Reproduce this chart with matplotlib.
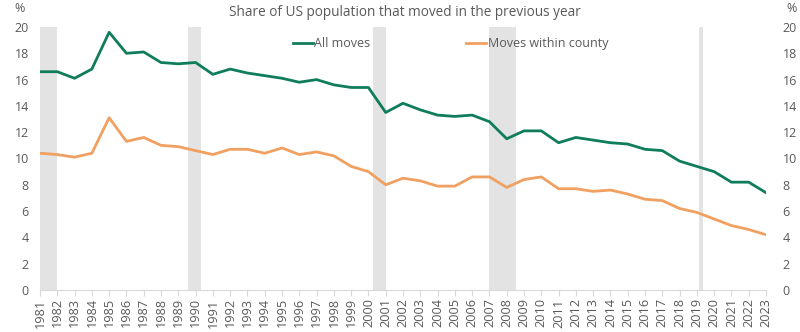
import matplotlib
matplotlib.use("Agg")
import matplotlib.pyplot as plt
from matplotlib.lines import Line2D

plt.rcParams['font.family'] = ['Open Sans', 'DejaVu Sans']

years = list(range(1981, 2024))
all_moves = [16.6, 16.6, 16.1, 16.8, 19.6, 18.0, 18.1, 17.3, 17.2, 17.3,
             16.4, 16.8, 16.5, 16.3, 16.1, 15.8, 16.0, 15.6, 15.4, 15.4,
             13.5, 14.2, 13.7, 13.3, 13.2, 13.3, 12.8, 11.5, 12.1, 12.1,
             11.2, 11.6, 11.4, 11.2, 11.1, 10.7, 10.6, 9.8, 9.4, 9.0,
             8.2, 8.2, 7.4]
within_county = [10.4, 10.3, 10.1, 10.4, 13.1, 11.3, 11.6, 11.0, 10.9, 10.6,
                 10.3, 10.7, 10.7, 10.4, 10.8, 10.3, 10.5, 10.2, 9.4, 9.0,
                 8.0, 8.5, 8.3, 7.9, 7.9, 8.6, 8.6, 7.8, 8.4, 8.6,
                 7.7, 7.7, 7.5, 7.6, 7.3, 6.9, 6.8, 6.2, 5.9, 5.4,
                 4.9, 4.6, 4.2]
recessions = [(1981.0, 1982.0), (1989.58, 1990.33), (2000.25, 2001.0),
              (2007.0, 2008.55), (2019.13, 2019.38)]
title = "Share of US population that moved in the previous year"
series_names = ["All moves", "Moves within county"]

green = "#0f7d5c"
orange = "#f0a060"
grey_text = "#595959"

fig = plt.figure(figsize=(8, 3.32), dpi=100)
ax = fig.add_axes([0.05, 0.1265, 0.9075, 0.7922])

for a, b in recessions:
    ax.axvspan(a, b, color="#e3e3e3", lw=0, zorder=0)

ax.plot(years, all_moves, color=green, lw=2, zorder=3)
ax.plot(years, within_county, color=orange, lw=2, zorder=3)

ax.set_xlim(1981, 2023)
ax.set_ylim(0, 20)
ax.set_yticks(range(0, 21, 2))
ax.set_xticks(years)
ax.set_xticklabels([str(y) for y in years], rotation=90, fontsize=9.1, color=grey_text)
ax.tick_params(axis='y', length=0, labelsize=9, labelcolor=grey_text, pad=8)
ax.tick_params(axis='x', length=4, color="#d9d9d9", pad=2)
for s in ['top', 'right', 'left']:
    ax.spines[s].set_visible(False)
ax.spines['bottom'].set_color("#d9d9d9")

ax2 = ax.twinx()
ax2.set_ylim(0, 20)
ax2.set_yticks(range(0, 21, 2))
ax2.tick_params(axis='y', length=0, labelsize=9, labelcolor=grey_text, pad=12)
for s in ['top', 'right', 'left', 'bottom']:
    ax2.spines[s].set_visible(False)

fig.text(0.506, 0.962, title, ha='center', va='center', fontsize=9.8, color=grey_text)
fig.text(0.024, 0.975, "%", ha='center', va='center', fontsize=9, color=grey_text)
fig.text(0.99, 0.975, "%", ha='center', va='center', fontsize=9, color=grey_text)

h1 = Line2D([], [], color=green, lw=2)
h2 = Line2D([], [], color=orange, lw=2)
leg1 = fig.legend([h1], [series_names[0]], loc='center left', bbox_to_anchor=(0.366, 0.868),
                  frameon=False, handlelength=1.6, handletextpad=0.1, fontsize=9,
                  labelcolor=grey_text, borderpad=0, borderaxespad=0)
leg2 = fig.legend([h2], [series_names[1]], loc='center left', bbox_to_anchor=(0.583, 0.868),
                  frameon=False, handlelength=1.6, handletextpad=0.1, fontsize=9,
                  labelcolor=grey_text, borderpad=0, borderaxespad=0)

fig.savefig("out.png", dpi=100)
